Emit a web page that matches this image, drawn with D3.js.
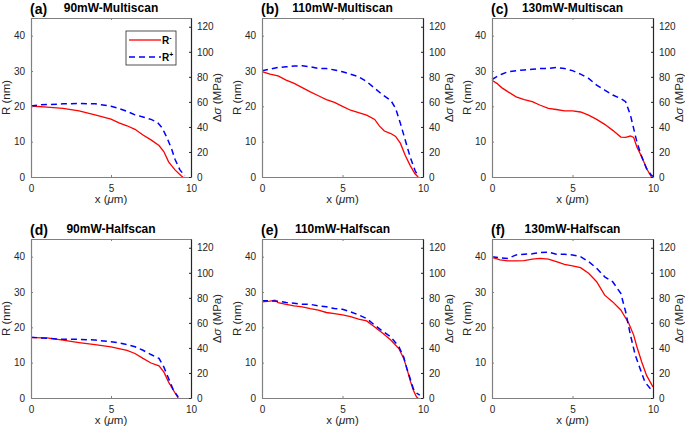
<!DOCTYPE html>
<html><head><meta charset="utf-8">
<script src="https://cdn.jsdelivr.net/npm/d3@7"></script>
<style>body{margin:0;background:#fff;} svg{display:block;font-family:Arial,"Liberation Sans",sans-serif;}</style>
</head><body><svg id="c" width="685" height="429"></svg>
<script>
// ---- data (x in µm, R in nm) ----
const panelLetters = ["(a)","(b)","(c)","(d)","(e)","(f)"];
const panelTitles = ["90mW-Multiscan","110mW-Multiscan","130mW-Multiscan","90mW-Halfscan","110mW-Halfscan","130mW-Halfscan"];
const xTicks = [0,5,10];
const leftTicks = [0,10,20,30,40];
const rightTicks = [0,20,40,60,80,100,120];
const legendLabels = ["-","+"];

const rMinusA = [[0,20.1],[1,19.8],[2,19.4],[3,18.7],[4,17.6],[5,16.4],[5.5,15.3],[6,14.5],[6.5,13.5],[7,11.9],[7.5,10.5],[8,8.9],[8.3,7.2],[8.6,4.3],[9,2],[9.4,0.3],[9.5,0]];
const rPlusA  = [[0,20.1],[0.5,20.4],[1,20.5],[2,20.7],[3,20.8],[4,20.7],[4.5,20.4],[5,20],[5.5,19.4],[6,18.6],[6.5,17.6],[7,17],[7.5,16.3],[7.9,15.5],[8.2,13.9],[8.5,11.1],[8.8,7.8],[9,5],[9.3,2.1],[9.6,0.3]];
const rMinusB = [[0,29.8],[0.5,29.1],[1,28.6],[1.5,27.4],[2,26.5],[2.5,25.3],[3,24.1],[3.5,23],[4,21.9],[4.5,21.1],[5,20],[5.5,18.9],[6,18.2],[6.5,17.5],[7,16.3],[7.3,14.4],[7.6,13],[8,12.3],[8.3,11.5],[8.6,9.5],[8.9,6.1],[9.2,3.3],[9.5,0.9],[9.7,0]];
const rPlusB  = [[0,30.1],[0.5,30.5],[1,31],[1.5,31.2],[2,31.4],[2.5,31.5],[3,31.2],[3.5,30.7],[4,30.7],[4.5,30.3],[5,29.8],[5.5,29.1],[6,28.4],[6.5,27],[7,25.1],[7.5,23.2],[8,21.7],[8.3,19.4],[8.6,15.1],[8.9,10.4],[9.2,5.7],[9.5,1.9],[9.7,0.2]];
const rMinusC = [[0,27.4],[0.3,26.5],[0.6,25.3],[1,24.1],[1.5,22.7],[2,21.9],[2.5,21.3],[3,20.3],[3.5,19.4],[4,19.1],[4.5,18.7],[5,18.7],[5.5,18.4],[6,17.5],[6.5,16.3],[7,14.9],[7.5,13.2],[8,11.3],[8.3,11.2],[8.6,11.6],[8.8,11.2],[9,8.5],[9.3,5.7],[9.6,2.4],[9.9,0]];
const rPlusC  = [[0,27.6],[0.3,28.4],[0.6,29.1],[1,29.8],[1.5,30.1],[2,30.3],[2.5,30.5],[3,30.7],[3.5,30.7],[4,31],[4.5,30.7],[5,30.1],[5.5,29.1],[6,27.9],[6.5,26],[7,24.6],[7.5,23.2],[8,22.2],[8.3,21.3],[8.6,17.5],[8.8,13.7],[9,9.9],[9.3,5.7],[9.6,2.4],[9.9,0.5],[10,0.2]];
const rMinusD = [[0,17.1],[1,17],[2,16.4],[3,15.7],[4,15.1],[5,14.5],[5.5,14],[6,13.5],[6.5,12.6],[7,11.2],[7.5,9.9],[8,9.1],[8.3,7.4],[8.6,4.5],[8.9,2.2],[9.2,0]];
const rPlusD  = [[0,17.2],[1,16.9],[2,16.6],[3,16.6],[4,16.4],[5,15.9],[5.5,15.6],[6,15.1],[6.5,14.5],[7,13.5],[7.5,12.3],[8,11.2],[8.3,8.8],[8.6,5.5],[8.9,2.2],[9.2,0.3]];
const rMinusE = [[0,27.2],[0.5,27.4],[0.8,27.7],[1,27],[1.5,26.5],[2,26.1],[2.5,25.8],[3,25.3],[3.5,24.9],[4,24.2],[4.5,23.9],[5,23.5],[5.5,23],[6,22.3],[6.5,21.8],[7,20.1],[7.5,18.3],[8,16.4],[8.5,14],[8.8,11.2],[9,8.3],[9.2,5],[9.4,2.2],[9.6,0.3],[9.7,0]];
const rPlusE  = [[0,27.5],[0.5,27.5],[1,27.4],[1.5,27],[2,26.8],[2.5,26.5],[3,26.5],[3.5,26.1],[4,25.8],[4.5,25.3],[5,25.1],[5.5,24.4],[6,23.5],[6.5,22.5],[7,20.6],[7.5,18.9],[8,17.3],[8.5,14.5],[8.8,11.6],[9,8.3],[9.2,5.5],[9.4,2.6],[9.6,1.4],[9.8,0.8]];
const rMinusF = [[0,39.8],[0.5,39.1],[1,38.8],[1.5,38.8],[2,38.9],[2.5,39.3],[3,39.5],[3.5,39.3],[4,38.6],[4.5,37.8],[5,37.4],[5.5,36.9],[6,35.3],[6.5,32.9],[7,29.1],[7.5,27.2],[8,24.9],[8.5,21.1],[8.8,17.8],[9,14.5],[9.3,10.2],[9.6,6.4],[10,3.1]];
const rPlusF  = [[0,40],[0.5,39.7],[1,39.5],[1.5,40.5],[2,40.7],[2.5,40.8],[3,41.2],[3.5,41.3],[4,40.7],[4.5,40.7],[5,40.5],[5.5,40],[6,38.6],[6.5,36.7],[7,34.3],[7.5,32.9],[8,29.6],[8.3,24.4],[8.6,17.8],[8.9,12.1],[9.2,8.3],[9.5,4.5],[10,1.7]];

const minusSeries = [rMinusA,rMinusB,rMinusC,rMinusD,rMinusE,rMinusF];
const plusSeries  = [rPlusA,rPlusB,rPlusC,rPlusD,rPlusE,rPlusF];

// ---- layout ----
const colLeft = [31, 262, 492];
const colW = [160, 161, 161];
const rowTop = [18, 239];
const plotH = 159;

const svg = d3.select("#c");
const grayAx = "#808080", darkAx = "#262626", txt = "#262626";

for (let i = 0; i < 6; i++) {
  const c = i % 3, r = Math.floor(i / 3);
  const L = colLeft[c], T = rowTop[r], W = colW[c], H = plotH;
  const g = svg.append("g").attr("transform", `translate(${L},${T})`);
  const x = d3.scaleLinear().domain([0,10]).range([0,W]);
  const yL = d3.scaleLinear().domain([0,45]).range([H,0]);
  const yR = d3.scaleLinear().domain([0,127]).range([H,0]);

  // lines
  const line = d3.line().x(d => x(d[0])).y(d => yL(d[1]));
  g.append("path").datum(minusSeries[i]).attr("d", line)
    .attr("fill","none").attr("stroke","#ff0000").attr("stroke-width",1.3);
  g.append("path").datum(plusSeries[i]).attr("d", line)
    .attr("fill","none").attr("stroke","#0000ff").attr("stroke-width",1.5)
    .attr("stroke-dasharray","6,4");

  // axes
  const ax = d3.axisBottom(x).tickValues(xTicks).tickSizeInner(-2).tickSizeOuter(0).tickPadding(8);
  const axT = d3.axisTop(x).tickValues(xTicks).tickSizeInner(-2).tickSizeOuter(0).tickFormat("");
  const ayL = d3.axisLeft(yL).tickValues(leftTicks).tickSizeInner(-2).tickSizeOuter(0).tickPadding(6);
  const ayR = d3.axisRight(yR).tickValues(rightTicks).tickSizeInner(-2).tickSizeOuter(0).tickPadding(6);

  const gx = g.append("g").attr("transform",`translate(0,${H})`).call(ax);
  const gt = g.append("g").call(axT);
  const gl = g.append("g").call(ayL);
  const gr = g.append("g").attr("transform",`translate(${W},0)`).call(ayR);
  [gx,gt,gl].forEach(a => { a.select(".domain").attr("stroke",grayAx).attr("stroke-width",1.2); a.selectAll(".tick line").attr("stroke",grayAx); });
  gr.select(".domain").attr("stroke",darkAx).attr("stroke-width",1.2);
  gr.selectAll(".tick line").attr("stroke",darkAx);
  [gx,gl,gr].forEach(a => a.selectAll(".tick text").attr("fill",txt).style("font-size","10px").style("font-family","Arial, 'Liberation Sans', sans-serif"));

  // labels
  const lblFont = "11.5px";
  g.append("text").attr("x", W/2).attr("y", H + 26).attr("text-anchor","middle")
    .attr("fill",txt).style("font-size",lblFont)
    .html("x (<tspan font-style='italic'>μ</tspan>m)");
  g.append("text").attr("transform",`translate(-21,${H/2}) rotate(-90)`).attr("text-anchor","middle")
    .attr("fill",txt).style("font-size",lblFont).text("R (nm)");
  g.append("text").attr("transform",`translate(${W+30},${H/2}) rotate(-90)`).attr("text-anchor","middle")
    .attr("fill",txt).style("font-size",lblFont)
    .html("Δ<tspan font-style='italic'>σ</tspan> (MPa)");

  // titles
  g.append("text").attr("x",-1).attr("y",-4).attr("fill","#000")
    .style("font-size","14px").style("font-weight","bold").text(panelLetters[i]);
  g.append("text").attr("x",W/2).attr("y",-6).attr("text-anchor","middle").attr("fill","#000")
    .style("font-size","12px").style("font-weight","bold").text(panelTitles[i]);

  // legend on (a)
  if (i === 0) {
    const lg = g.append("g").attr("transform","translate(95,13)");
    lg.append("rect").attr("width",50).attr("height",34).attr("fill","#fff")
      .attr("stroke",darkAx).attr("stroke-width",0.8);
    const styles = [{c:"#ff0000",d:null},{c:"#0000ff",d:"6,4"}];
    legendLabels.forEach((s,k) => {
      const yy = 9 + k*17;
      const ln = lg.append("line").attr("x1",3).attr("x2",35).attr("y1",yy).attr("y2",yy)
        .attr("stroke",styles[k].c).attr("stroke-width",1.3);
      if (styles[k].d) ln.attr("stroke-dasharray",styles[k].d);
      const t = lg.append("text").attr("x",36).attr("y",yy+4).attr("fill","#000")
        .style("font-size","10px").style("font-weight","bold");
      t.append("tspan").text("R");
      t.append("tspan").attr("dy",-4).style("font-size","7px").text(s);
    });
  }
}
</script></body></html>
